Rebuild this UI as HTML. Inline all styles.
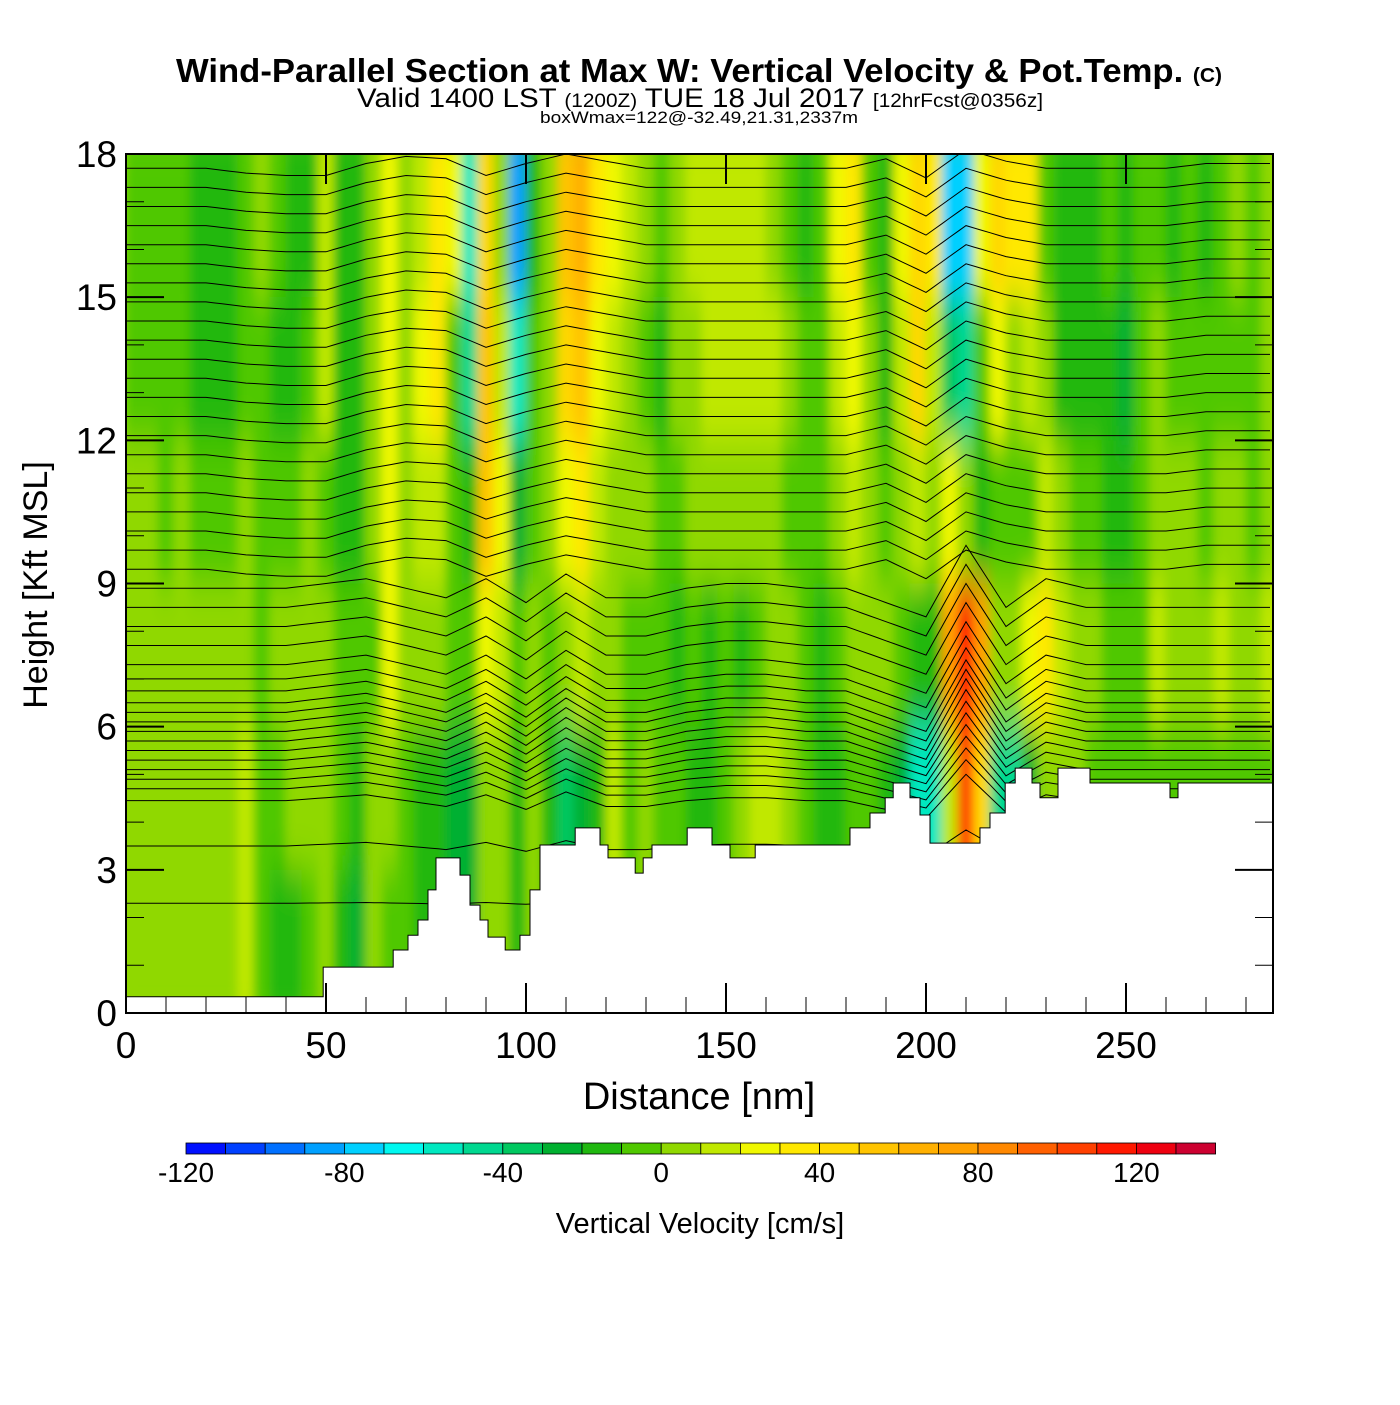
<!DOCTYPE html>
<html><head><meta charset="utf-8"><style>
body{margin:0;background:#fff;}
svg text{font-family:"Liberation Sans",sans-serif;}
</style></head><body>
<svg id="chart" width="1400" height="1400" viewBox="0 0 1400 1400" xmlns="http://www.w3.org/2000/svg">
<defs>
<clipPath id="plotClip"><rect x="126" y="154" width="1147" height="859"/></clipPath>
<filter id="soft" x="-5%" y="-5%" width="110%" height="110%"><feGaussianBlur stdDeviation="5 22"/></filter>
</defs>
<g>
<text x="176" y="82" font-size="33" font-weight="bold" textLength="1046" lengthAdjust="spacingAndGlyphs">Wind-Parallel Section at Max W: Vertical Velocity &amp; Pot.Temp. <tspan font-size="20">(C)</tspan></text>
<text x="357" y="107" font-size="27" textLength="686" lengthAdjust="spacingAndGlyphs">Valid 1400 LST <tspan font-size="19">(1200Z)</tspan> TUE 18 Jul 2017 <tspan font-size="19">[12hrFcst@0356z]</tspan></text>
<text x="540" y="123" font-size="17" textLength="318" lengthAdjust="spacingAndGlyphs">boxWmax=122@-32.49,21.31,2337m</text>
</g>
<rect x="126" y="154" width="1147" height="859" fill="#90d800"/>
<g clip-path="url(#plotClip)"><g id="heat" filter="url(#soft)"></g></g>
<g clip-path="url(#plotClip)" id="lines"></g>
<g clip-path="url(#plotClip)"><path id="terrain" fill="#fff" stroke="#000" stroke-width="1"/></g>
<rect x="126" y="154" width="1147" height="859" fill="none" stroke="#000" stroke-width="2"/>
<g id="axes"></g>
<text transform="translate(47,585) rotate(-90)" text-anchor="middle" font-size="34">Height [Kft MSL]</text>
<text x="699" y="1109" text-anchor="middle" font-size="38">Distance [nm]</text>
<g id="cbar"></g>
<text x="700" y="1233" text-anchor="middle" font-size="29">Vertical Velocity [cm/s]</text>
</svg>
<script>
// colour scale bins (lower edge, cm/s)
const binEdges=[-120,-110,-100,-90,-80,-70,-60,-50,-40,-30,-20,-10,0,10,20,30,40,50,60,70,80,90,100,110,120,130];
const binColors=["#0010ff","#0040ff","#0070ff","#00a0ff","#00d0ff","#00f8f0","#00e8c0","#00d890","#00c860","#00b030","#20b810","#50c800","#90d800","#c0e800","#f0f800","#ffe800","#ffd800","#ffc400","#ffb000","#ffa000","#ff8800","#ff6000","#ff4000","#ff1800","#ee0010","#cc0030"];
const cbarTicks=[-120,-80,-40,0,40,80,120];
const xTicks=[0,50,100,150,200,250];
const yTicks=[0,3,6,9,12,15,18];
// velocity grid: columns every 4 nm, rows (top->bottom) 15-18,12-15,9-12,6-9,3-6,0-3 kft
const colWidthNm=4;
const rowTops=[18,15,12,9,6,3];
const wGrid=[
[-5,-5,5,5,5,5],[-5,-5,5,5,5,5],[-5,-5,-5,5,5,5],[-5,-5,5,5,5,5],[-15,-15,-5,5,5,5],[-15,-15,-5,5,5,5],
[-15,-15,-5,5,5,5],[-5,-5,5,5,15,15],[5,-5,-5,-5,-5,-5],[-5,-15,-5,5,-5,-15],[-15,-15,-5,5,5,-15],[-15,-5,5,5,5,-5],
[15,15,-5,5,5,5],[-15,-15,-15,-5,-5,-15],[-15,-15,-15,-5,-15,-25],[5,5,5,-5,5,5],[25,25,25,25,5,-5],[5,5,5,5,-5,-5],
[15,25,15,5,-15,-15],[35,35,15,5,-15,-15],[25,-5,-5,-5,-25,-25],[-55,-45,-15,-5,-25,-25],[45,55,55,25,5,5],[5,15,25,15,5,5],
[-85,-55,-25,-5,-15,-15],[-15,-5,-5,5,5,5],[5,5,5,-5,-15,-15],[55,45,25,5,-35,-35],[65,55,35,15,-25,-25],[35,25,15,5,-15,-15],
[25,15,5,5,15,15],[15,5,5,-5,-5,-5],[5,-5,5,-5,5,5],[-5,-15,-5,-5,-5,-5],[5,5,-5,-15,-5,-5],[15,5,5,-5,-15,-15],
[15,15,5,-15,-15,-15],[15,15,5,-5,-5,-5],[15,15,5,-15,5,5],[15,15,5,-5,15,15],[5,15,5,5,15,15],[-5,5,-5,5,5,5],
[-15,-5,-5,-5,-5,-5],[-5,-5,-5,-15,-15,-15],[25,15,5,-5,-15,-15],[35,25,15,5,-5,-5],[-5,5,5,5,-5,-5],[-15,-15,-5,5,-15,-15],
[25,15,5,-5,-25,-25],[45,45,15,-15,-55,-55],[35,15,5,-15,-55,-55],[-75,-35,25,75,15,15],[-75,-45,5,115,105,105],[25,-5,-15,75,45,45],
[45,25,-5,5,-45,-45],[35,5,-5,5,-45,-45],[35,15,-5,25,-25,-25],[-5,5,15,35,5,5],[-15,-15,5,15,5,5],[-15,-15,-5,5,5,5],
[-15,-15,-5,5,-5,-5],[-5,-15,-15,-5,-5,-5],[-15,-25,-15,-5,-5,-5],[-5,-5,-5,-5,-5,-5],[-5,5,5,15,-5,-5],[-15,-5,5,5,-5,-5],
[-5,-5,5,5,-5,-5],[-15,-5,-5,5,-5,-5],[-5,-5,5,15,-5,-5],[5,-5,5,5,-5,-5],[-5,-5,-5,5,-5,-5],[5,5,5,15,-5,-5]];
// terrain step segments: start distance (nm), height (kft)
const terrainX=[0,49.3,66.8,70.5,73,75.5,77.5,83.5,86,88.5,90.5,94.8,98.5,101,103.5,112.3,118.5,120.5,127.3,129.3,131.5,140.3,146.5,151,157.3,181,186,189.8,191.8,196,198.5,201,213.5,216,219.8,222.3,226.5,228.5,233,241,261,263];
const terrainH=[0.34,0.96,1.32,1.63,1.95,2.58,3.25,2.89,2.26,1.95,1.59,1.32,1.63,2.58,3.52,3.88,3.52,3.25,2.93,3.25,3.52,3.88,3.52,3.25,3.52,3.88,4.19,4.51,4.82,4.51,4.15,3.56,3.88,4.19,4.82,5.13,4.82,4.51,5.13,4.82,4.51,4.82];
// isentrope heights at left edge (kft)
const thetaLevels=[17.7,17.3,16.9,16.5,16.1,15.7,15.3,14.9,14.5,14.1,13.7,13.3,12.9,12.5,12.1,11.7,11.3,10.9,10.5,10.1,9.7,9.3,8.9,8.5,8.1,7.7,7.3,7.0,6.75,6.5,6.3,6.1,5.9,5.7,5.5,5.3,5.1,4.9,4.7,4.45,3.5,2.3];
// vertical displacement profiles (kft) every 10 nm
const dispUpper=[0,0,0,-0.1,-0.15,-0.15,0.1,0.25,0.2,-0.15,0.1,0.3,0.15,0,0,0,0,0,0,0.2,-0.2,0.4,0.15,0,0,0,0,0.1,0.1];
const dispLower=[0,0,0,0,0,0.1,0.2,0,-0.2,0.2,-0.3,0.3,-0.2,-0.2,0,0.1,0.1,0,0,-0.3,-0.6,0.9,-0.4,0.2,0,0,0,0,0];

const NS="http://www.w3.org/2000/svg";
const X=d=>126+d*4, Y=h=>1013-h*(859/18);
function mk(t,a,p){const e=document.createElementNS(NS,t);for(const k in a)e.setAttribute(k,a[k]);p.appendChild(e);return e;}
function color(v){let c=binColors[0];for(let i=0;i<binEdges.length;i++)if(v>=binEdges[i])c=binColors[i];return c;}
const heat=document.getElementById('heat');
wGrid.forEach((col,i)=>{col.forEach((v,j)=>{
 const r=mk('rect',{x:X(i*colWidthNm)-0.5,y:Y(rowTops[j])-(j==0?30:0),width:16+1,height:(j==0?30:0)+Y(rowTops[j]-3)-Y(rowTops[j])+(j==5?20:0),fill:color(v)},heat);
 
 
});});
const lines=document.getElementById('lines');
function interp(arr,d){const p=d/10,i=Math.min(Math.floor(p),arr.length-2),f=p-i;return arr[i]*(1-f)+arr[i+1]*f;}
thetaLevels.forEach(h=>{
 let pts=[];
 for(let d=0;d<=287;d+=2){const disp=h>9?dispUpper:dispLower;const amp=h>9?1:Math.min(1,(h-2)/4);pts.push(X(d).toFixed(1)+','+Y(h+interp(disp,d)*amp).toFixed(1));}
 const p=mk('polyline',{points:pts.join(' '),fill:'none',stroke:'#000','stroke-width':1},lines);
 
 
});
let d='M'+X(0)+','+Y(0);
terrainX.forEach((x,i)=>{const xe=i<terrainX.length-1?terrainX[i+1]:287;d+=' L'+X(x)+','+Y(terrainH[i])+' L'+X(xe)+','+Y(terrainH[i]);});
d+=' L'+X(287)+','+Y(0)+' Z';
document.getElementById('terrain').setAttribute('d',d);
const ax=document.getElementById('axes');
for(let v=0;v<=280;v+=10){const big=v%50==0;
 const t=mk('line',{x1:X(v),x2:X(v),y1:1013,y2:1013-(big?30:16),stroke:'#000','stroke-width':big?2:1},ax);
 if(big){const t2=mk('line',{x1:X(v),x2:X(v),y1:154,y2:184,stroke:'#000','stroke-width':2},ax);}}
xTicks.forEach(v=>{const t=mk('text',{x:X(v),y:1058,'text-anchor':'middle','font-size':37},ax);t.textContent=v;});
for(let v=0;v<=18;v+=1){const big=v%3==0;
 const t=mk('line',{x1:126,x2:126+(big?38:18),y1:Y(v),y2:Y(v),stroke:'#000','stroke-width':big?2:1},ax);
 const t2=mk('line',{x1:1273,x2:1273-(big?38:18),y1:Y(v),y2:Y(v),stroke:'#000','stroke-width':big?2:1},ax);}
yTicks.forEach(v=>{const t=mk('text',{x:117,y:Y(v)+13,'text-anchor':'end','font-size':37},ax);t.textContent=v;});
const cb=document.getElementById('cbar');const C=v=>186+(v+120)*3.96;
binColors.forEach((c,i)=>{const r=mk('rect',{x:C(binEdges[i]),y:1143,width:39.6,height:11,fill:c,stroke:'#000','stroke-width':0.8},cb);});
cbarTicks.forEach(v=>{const t=mk('text',{x:C(v),y:1182,'text-anchor':'middle','font-size':28},cb);t.textContent=v;});
</script>
</body></html>
